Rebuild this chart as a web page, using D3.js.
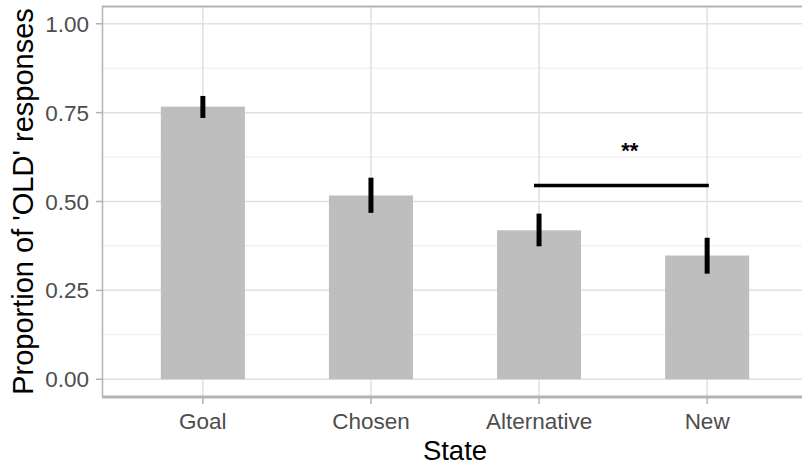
<!DOCTYPE html>
<html>
<head>
<meta charset="utf-8">
<script src="https://cdn.jsdelivr.net/npm/d3@7"></script>
<style>
  body { margin: 0; background: #fff; }
  svg { display: block; font-family: "Liberation Sans", Arial, sans-serif; }
</style>
</head>
<body>
<div id="chart"></div>
<script>
// valeurs
const states = ["Goal", "Chosen", "Alternative", "New"];
const means = [0.767, 0.517, 0.419, 0.348];
const lower = [0.735, 0.468, 0.374, 0.297];
const upper = [0.797, 0.567, 0.466, 0.398];
const yTicks = [0, 0.25, 0.5, 0.75, 1];
const yMinor = [0.125, 0.375, 0.625, 0.875];
// comparaison Alternative vs New
const signif = { from: 2.97, to: 4.01, y: 0.545, label: "**", labelX: 3.54, labelY: 0.665 };

const W = 802, H = 465;
const margin = { top: 6, right: -6, bottom: 68, left: 102 };

const svg = d3.select("#chart").append("svg")
  .attr("width", W)
  .attr("height", H);

const x = d3.scaleLinear()
  .domain([0.4, states.length + 0.6])
  .range([margin.left, W - margin.right]);

const y = d3.scaleLinear()
  .domain([-0.05, 1.05])
  .range([H - margin.bottom, margin.top]);

const grid = svg.append("g");
// minor grid
grid.selectAll(".minor").data(yMinor).enter().append("line")
  .attr("x1", margin.left).attr("x2", W - margin.right)
  .attr("y1", d => y(d)).attr("y2", d => y(d))
  .attr("stroke", "#ebebeb").attr("stroke-width", 1);
// major grid
grid.selectAll(".majorY").data(yTicks).enter().append("line")
  .attr("x1", margin.left).attr("x2", W - margin.right)
  .attr("y1", d => y(d)).attr("y2", d => y(d))
  .attr("stroke", "#e0e0e0").attr("stroke-width", 1.5);
grid.selectAll(".majorX").data(states).enter().append("line")
  .attr("x1", (d, i) => x(i + 1)).attr("x2", (d, i) => x(i + 1))
  .attr("y1", margin.top).attr("y2", H - margin.bottom)
  .attr("stroke", "#e0e0e0").attr("stroke-width", 1.5);

// barres
svg.selectAll(".bar").data(means).enter().append("rect")
  .attr("x", (d, i) => x(i + 1 - 0.25))
  .attr("width", x(1.25) - x(0.75))
  .attr("y", d => y(d))
  .attr("height", d => y(0) - y(d))
  .attr("fill", "#bebebe");

// barres d'erreur
svg.selectAll(".err").data(means).enter().append("line")
  .attr("x1", (d, i) => x(i + 1)).attr("x2", (d, i) => x(i + 1))
  .attr("y1", (d, i) => y(lower[i])).attr("y2", (d, i) => y(upper[i]))
  .attr("stroke", "#000").attr("stroke-width", 5);

// ligne de significativité
svg.append("line")
  .attr("x1", x(signif.from)).attr("x2", x(signif.to))
  .attr("y1", y(signif.y)).attr("y2", y(signif.y))
  .attr("stroke", "#000").attr("stroke-width", 3.5);
svg.append("text")
  .attr("x", x(signif.labelX))
  .attr("y", y(signif.labelY))
  .attr("text-anchor", "middle")
  .attr("dy", "0.7em")
  .style("font-size", "22px")
  .style("font-weight", "bold")
  .text(signif.label);

// cadre
svg.append("line")
  .attr("x1", margin.left).attr("x2", W - margin.right)
  .attr("y1", margin.top + 0.5).attr("y2", margin.top + 0.5)
  .attr("stroke", "#b3b3b3").attr("stroke-width", 2);
svg.append("line")
  .attr("x1", margin.left + 0.5).attr("x2", margin.left + 0.5)
  .attr("y1", margin.top).attr("y2", H - margin.bottom)
  .attr("stroke", "#b3b3b3").attr("stroke-width", 1.5);
svg.append("line")
  .attr("x1", margin.left).attr("x2", W - margin.right)
  .attr("y1", H - margin.bottom).attr("y2", H - margin.bottom)
  .attr("stroke", "#b3b3b3").attr("stroke-width", 3);

// axe y
const yAxis = svg.append("g");
yAxis.selectAll("line").data(yTicks).enter().append("line")
  .attr("x1", margin.left - 6).attr("x2", margin.left)
  .attr("y1", d => y(d)).attr("y2", d => y(d))
  .attr("stroke", "#b3b3b3").attr("stroke-width", 1.5);
yAxis.selectAll("text").data(yTicks).enter().append("text")
  .attr("x", margin.left - 13)
  .attr("y", d => y(d))
  .attr("dy", "0.36em")
  .attr("text-anchor", "end")
  .attr("fill", "#4d4d4d")
  .style("font-size", "22.5px")
  .text(d => d3.format(".2f")(d));

// axe x
const xAxis = svg.append("g");
xAxis.selectAll("line").data(states).enter().append("line")
  .attr("x1", (d, i) => x(i + 1)).attr("x2", (d, i) => x(i + 1))
  .attr("y1", H - margin.bottom).attr("y2", H - margin.bottom + 7)
  .attr("stroke", "#b3b3b3").attr("stroke-width", 1.5);
xAxis.selectAll("text").data(states).enter().append("text")
  .attr("x", (d, i) => x(i + 1))
  .attr("y", 429)
  .attr("text-anchor", "middle")
  .attr("fill", "#4d4d4d")
  .style("font-size", "22.5px")
  .text(d => d);

// titres
svg.append("text")
  .attr("x", (margin.left + W - margin.right) / 2)
  .attr("y", 459.5)
  .attr("text-anchor", "middle")
  .style("font-size", "27.5px")
  .text("State");

svg.append("text")
  .attr("transform", `translate(33,${(margin.top + H - margin.bottom) / 2}) rotate(-90)`)
  .attr("text-anchor", "middle")
  .style("font-size", "29px")
  .text("Proportion of 'OLD' responses");
</script>
</body>
</html>
